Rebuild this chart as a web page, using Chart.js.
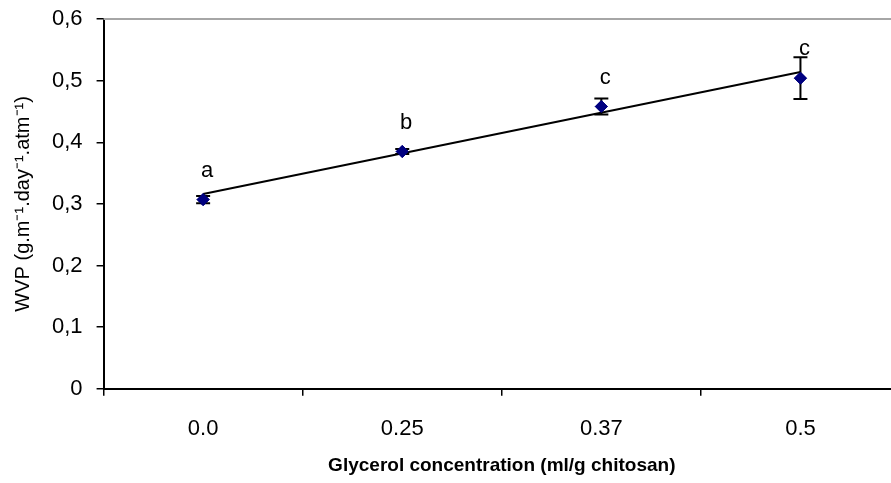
<!DOCTYPE html>
<html>
<head>
<meta charset="utf-8">
<script src="https://cdn.jsdelivr.net/npm/chart.js@4.4.0/dist/chart.umd.min.js"></script>
<style>
  html, body { margin: 0; padding: 0; background: #fff; overflow: hidden; }
  #wrap { width: 891px; height: 483px; overflow: hidden; }
  #box { width: 910px; height: 483px; }
</style>
</head>
<body>
<div id="wrap"><div id="box"><canvas id="wvpChart"></canvas></div></div>
<script>
// glycerol concentration categories
const concentrations = ['0.0', '0.25', '0.37', '0.5'];
// mean WVP and standard deviation
const wvpValues = [0.307, 0.385, 0.458, 0.504];
const wvpErrors = [0.006, 0.004, 0.013, 0.034];
// significance letters
const groupLetters = ['a', 'b', 'c', 'c'];
// linear trendline, read at first and last category
const trendValues = [0.316, null, null, 0.514];
const yTicks = [0, 0.1, 0.2, 0.3, 0.4, 0.5, 0.6];

const fontFam = '"Liberation Sans", Arial, sans-serif';

// error bars + letters
const extrasPlugin = {
    id: 'extras',
    afterDatasetsDraw(chart) {
        const ctx = chart.ctx;
        const x = chart.scales.x, y = chart.scales.y;
        ctx.save();
        ctx.strokeStyle = '#000';
        ctx.lineWidth = 2;
        wvpValues.forEach((v, i) => {
            const px = x.getPixelForValue(i);
            const top = y.getPixelForValue(v + wvpErrors[i]);
            const bot = y.getPixelForValue(v - wvpErrors[i]);
            ctx.beginPath();
            ctx.moveTo(px, top); ctx.lineTo(px, bot);
            ctx.moveTo(px - 7, top); ctx.lineTo(px + 7, top);
            ctx.moveTo(px - 7, bot); ctx.lineTo(px + 7, bot);
            ctx.stroke();
        });
        // redraw the diamonds on top of the bars
        const meta = chart.getDatasetMeta(1);
        meta.data.forEach(p => p.draw(ctx, chart.chartArea));
        ctx.fillStyle = '#000';
        ctx.font = '22px ' + fontFam;
        ctx.textAlign = 'center';
        ctx.textBaseline = 'middle';
        groupLetters.forEach((t, i) => {
            ctx.fillText(t, x.getPixelForValue(i) + 4, y.getPixelForValue(wvpValues[i]) - 29);
        });
        // plot area border (top)
        const a = chart.chartArea;
        ctx.strokeStyle = '#a6a6a6';
        ctx.lineWidth = 2;
        ctx.beginPath();
        ctx.moveTo(a.left, a.top); ctx.lineTo(a.right, a.top);
        ctx.stroke();
        ctx.restore();
    }
};

new Chart(document.getElementById('wvpChart').getContext('2d'), {
    type: 'line',
    data: {
        labels: concentrations,
        datasets: [{
            label: 'Trend',
            data: trendValues,
            spanGaps: true,
            borderColor: '#000',
            borderWidth: 2,
            pointRadius: 0,
            fill: false
        }, {
            label: 'WVP',
            data: wvpValues,
            showLine: false,
            pointStyle: 'rectRot',
            pointRadius: 6,
            pointBackgroundColor: '#000080',
            pointBorderColor: '#000080',
            pointBorderWidth: 1
        }]
    },
    options: {
        responsive: true,
        maintainAspectRatio: false,
        animation: false,
        layout: { padding: { top: 0, right: 10, bottom: 6, left: 11 } },
        plugins: { legend: { display: false }, tooltip: { enabled: false } },
        scales: {
            x: {
                offset: true,
                grid: { offset: true, drawOnChartArea: false, tickLength: 7, color: '#000', lineWidth: 1.5 },
                border: { color: '#000', width: 2 },
                ticks: { color: '#000', padding: 20, font: { family: fontFam, size: 22 } },
                title: {
                    display: true,
                    text: 'Glycerol concentration (ml/g chitosan)',
                    color: '#000',
                    padding: { top: -8, bottom: 0 },
                    font: { family: fontFam, size: 19, weight: 'bold' }
                }
            },
            y: {
                min: 0, max: 0.6,
                afterBuildTicks: s => { s.ticks = yTicks.map(v => ({ value: v })); },
                afterFit: s => { s.paddingTop = 19; },
                grid: { drawOnChartArea: false, tickLength: 7, color: '#000', lineWidth: 1.5 },
                border: { color: '#000', width: 2 },
                ticks: {
                    color: '#000', padding: 14,
                    font: { family: fontFam, size: 22 },
                    callback: v => v === 0 ? '0' : v.toFixed(1).replace('.', ',')
                },
                title: {
                    display: true,
                    text: 'WVP (g.m⁻¹.day⁻¹.atm⁻¹)',
                    color: '#000',
                    padding: { top: 0, bottom: 3 },
                    font: { family: fontFam, size: 20 }
                }
            }
        }
    },
    plugins: [extrasPlugin]
});
</script>
</body>
</html>
